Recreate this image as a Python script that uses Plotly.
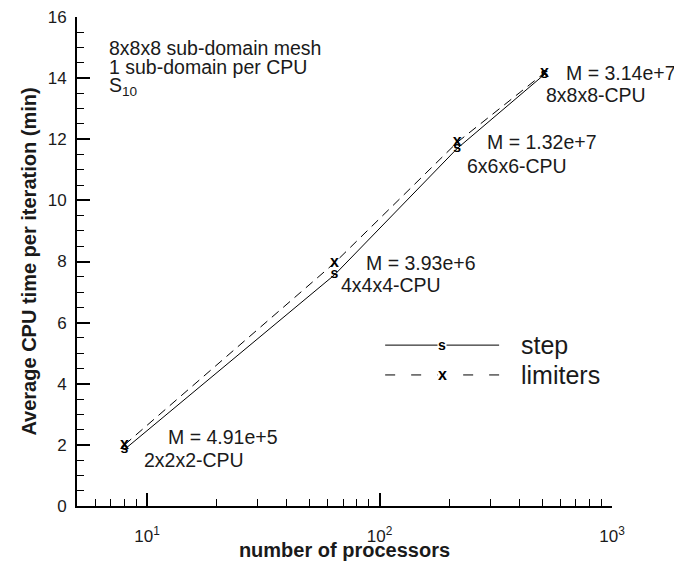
import math
import plotly.graph_objects as go

# Processor counts and average CPU time per iteration (min)
procs = [8, 64, 216, 512]
time_step = [1.85, 7.56, 11.70, 14.12]
time_limiters = [2.00, 7.95, 11.90, 14.17]
mesh_sizes = ["M = 4.91e+5", "M = 3.93e+6", "M = 1.32e+7", "M = 3.14e+7"]
cpu_layouts = ["2x2x2-CPU", "4x4x4-CPU", "6x6x6-CPU", "8x8x8-CPU"]

x_major = [10, 100, 1000]
x_major_text = ["10<sup>1</sup>", "10<sup>2</sup>", "10<sup>3</sup>"]
x_minor = [6, 7, 8, 9, 20, 30, 40, 50, 60, 70, 80, 90,
           200, 300, 400, 500, 600, 700, 800, 900]

FONT = "Liberation Sans, Arial, Helvetica, sans-serif"
TEXT_COLOR = "#1a1a1a"

# label offsets (pixels, right/down) relative to each limiters point
m_offsets = [(42, -8), (30, 0), (28, 0), (20, 0)]
cpu_offsets = [(18, 15), (5, 22), (8, 24), (0, 22)]

fig = go.Figure()

fig.add_trace(go.Scatter(
    x=procs, y=time_step, mode="lines+text",
    line=dict(color="black", width=1),
    text=["s"] * len(procs), textposition="middle center",
    textfont=dict(family=FONT, size=14, color="black", weight="bold"),
    showlegend=False, hoverinfo="skip",
))
fig.add_trace(go.Scatter(
    x=procs, y=time_limiters, mode="lines+text",
    line=dict(color="black", width=1, dash="9px,6px"),
    text=["x"] * len(procs), textposition="middle center",
    textfont=dict(family=FONT, size=16, color="black", weight="bold"),
    showlegend=False, hoverinfo="skip",
))

annotations = []
for xv, yv, m, c, mo, co in zip(procs, time_limiters, mesh_sizes, cpu_layouts,
                                m_offsets, cpu_offsets):
    lx = math.log10(xv)  # annotation positions on a log axis use log10 units
    annotations.append(dict(x=lx, y=yv, xref="x", yref="y", text=m,
                            showarrow=False, xanchor="left", yanchor="middle",
                            xshift=mo[0], yshift=-mo[1],
                            font=dict(family=FONT, size=19.5, color=TEXT_COLOR)))
    annotations.append(dict(x=lx, y=yv, xref="x", yref="y", text=c,
                            showarrow=False, xanchor="left", yanchor="middle",
                            xshift=co[0], yshift=-co[1],
                            font=dict(family=FONT, size=19.5, color=TEXT_COLOR)))

# info block in the upper left corner
info_lines = ["8x8x8 sub-domain mesh", "1 sub-domain per CPU",
              "S<sub>10</sub>"]
for i, line in enumerate(info_lines):
    annotations.append(dict(x=0.056, y=0.937 - i * 0.04, xref="paper",
                            yref="paper", text=line, showarrow=False,
                            xanchor="left", yanchor="middle",
                            font=dict(family=FONT, size=19.5, color=TEXT_COLOR)))

# hand-drawn legend
shapes = [
    dict(type="line", xref="paper", yref="paper", x0=0.576, x1=0.789,
         y0=0.329, y1=0.329, line=dict(color="black", width=1)),
    dict(type="line", xref="paper", yref="paper", x0=0.576, x1=0.789,
         y0=0.268, y1=0.268, line=dict(color="black", width=1,
                                       dash="10px,16px")),
]
legend_items = [("s", "step", 0.329, 14), ("x", "limiters", 0.268, 16)]
for sym, label, yp, sz in legend_items:
    annotations.append(dict(x=0.6825, y=yp, xref="paper", yref="paper",
                            text="<b>%s</b>" % sym, showarrow=False,
                            xanchor="center", yanchor="middle",
                            bgcolor="white", borderpad=0,
                            font=dict(family=FONT, size=sz, color="black")))
    annotations.append(dict(x=0.826, y=yp, xref="paper", yref="paper",
                            text=label, showarrow=False,
                            xanchor="left", yanchor="middle",
                            font=dict(family=FONT, size=25, color=TEXT_COLOR)))

fig.update_layout(
    width=674, height=561,
    margin=dict(l=77, r=62, t=17, b=55),
    paper_bgcolor="white", plot_bgcolor="white",
    font=dict(family=FONT, color=TEXT_COLOR),
    annotations=annotations, shapes=shapes,
    showlegend=False,
)

fig.update_xaxes(
    type="log", range=[0.69897, 3], automargin=False,
    showline=True, linecolor="black", linewidth=2, mirror=False,
    showgrid=False, zeroline=False,
    tickmode="array", tickvals=x_major, ticktext=x_major_text,
    ticks="inside", ticklen=13, tickwidth=1.5, tickcolor="black",
    ticklabelstandoff=14,
    tickfont=dict(family=FONT, size=17, color=TEXT_COLOR),
    minor=dict(tickmode="array", tickvals=x_minor, ticks="inside",
               ticklen=7, tickwidth=1, tickcolor="black", showgrid=False),
    title=dict(text="<b>number of processors</b>", standoff=2,
               font=dict(family=FONT, size=20, color=TEXT_COLOR)),
)
fig.update_yaxes(
    range=[0, 16], automargin=False,
    showline=True, linecolor="black", linewidth=2, mirror=False,
    showgrid=False, zeroline=False,
    tickmode="linear", tick0=0, dtick=2,
    ticks="inside", ticklen=13, tickwidth=1.5, tickcolor="black",
    ticklabelstandoff=5,
    tickfont=dict(family=FONT, size=17, color=TEXT_COLOR),
    minor=dict(dtick=0.5, ticks="inside", ticklen=7, tickwidth=1,
               tickcolor="black", showgrid=False),
    title=dict(text="<b>Average CPU time per iteration (min)</b>",
               standoff=6, font=dict(family=FONT, size=20, color=TEXT_COLOR)),
)

fig.write_html("out.html")
